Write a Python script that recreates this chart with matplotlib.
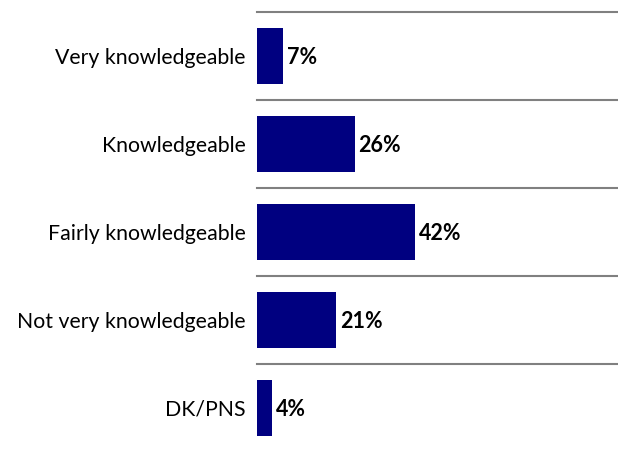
import matplotlib.pyplot as plt

categories = ["Very knowledgeable", "Knowledgeable", "Fairly knowledgeable",
              "Not very knowledgeable", "DK/PNS"]
values = [7, 26, 42, 21, 4]

plt.rcParams['font.family'] = ['Lato', 'DejaVu Sans']

fig = plt.figure(figsize=(6.18, 4.49), dpi=100)
W, H = 618, 449
# axes from x=257px to right edge, y from 12px to bottom
ax = fig.add_axes([257 / W, 0, 1 - 257 / W, (H - 12) / H])

y = list(range(len(categories)))
ax.barh(y, values, height=0.636, color="#000080")
for yi, v in zip(y, values):
    ax.text(v + 1.0, yi + 0.02, "%d%%" % v, va="center", ha="left",
            fontsize=15.5, fontweight="bold", color="black")

for b in [-0.5, 0.5, 1.5, 2.5, 3.5]:
    ax.axhline(b, color="#808080", linewidth=1.5, clip_on=False)

ax.set_xlim(0, 96)
ax.set_ylim(-0.5 + (H - 12) / 88, -0.5)
ax.set_yticks(y)
ax.set_yticklabels(categories, fontsize=15.3)
ax.tick_params(axis="y", length=0, pad=8)
ax.set_xticks([])
for s in ax.spines.values():
    s.set_visible(False)

fig.savefig("out.png", dpi=100)
